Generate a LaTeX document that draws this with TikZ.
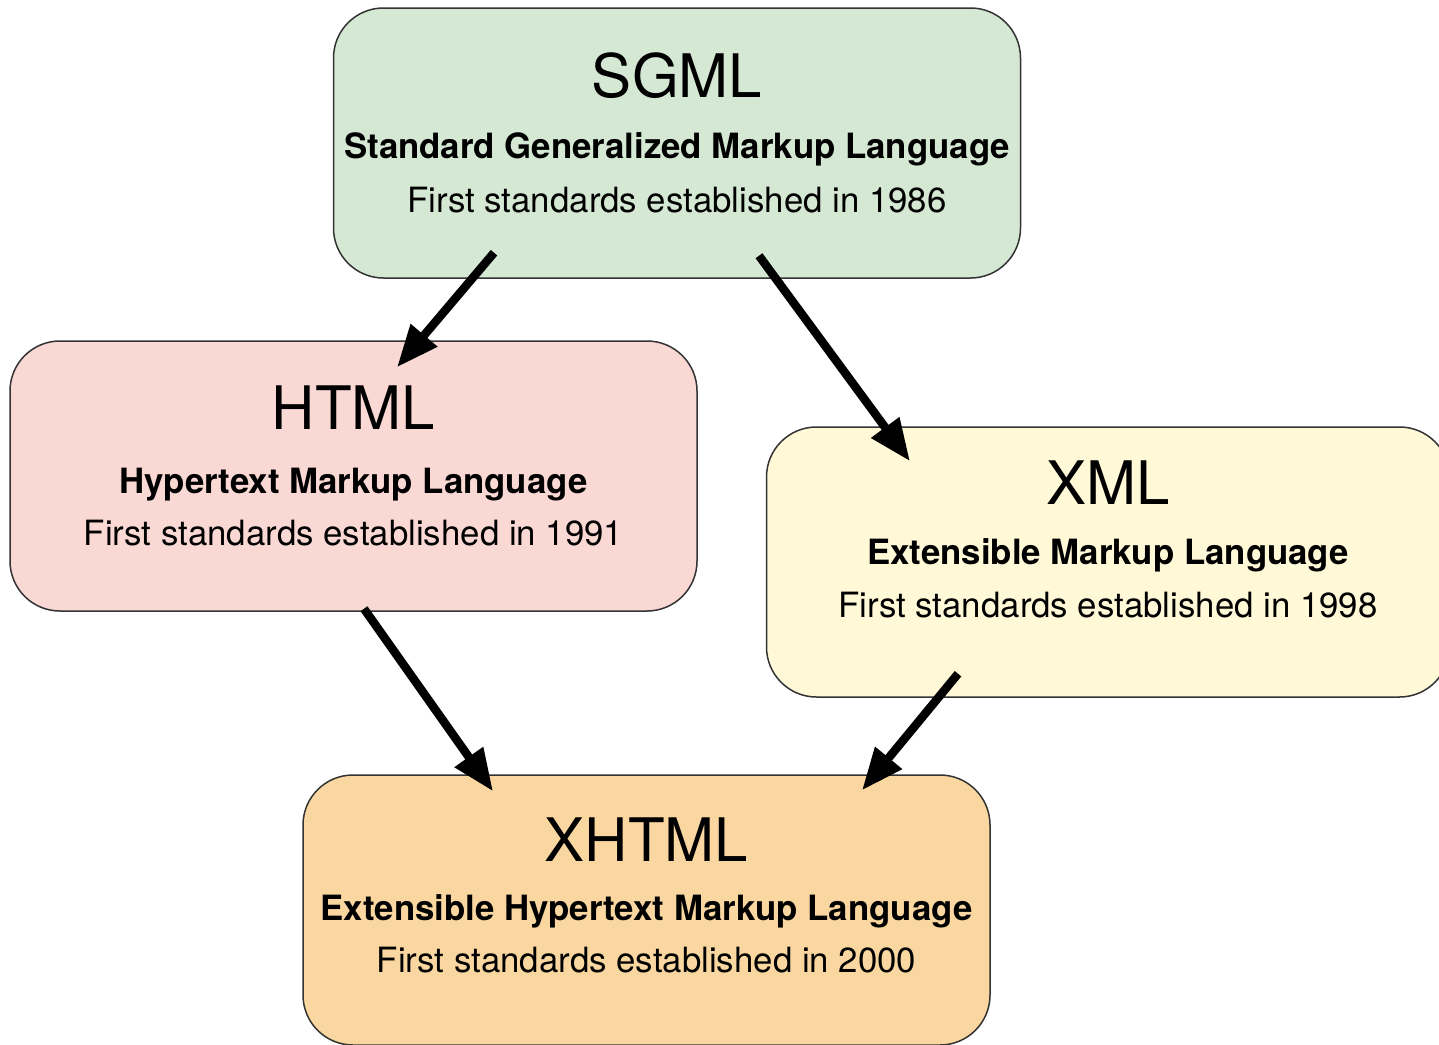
\documentclass[tikz,border=0pt]{standalone}
\usepackage{fontspec}
\setmainfont{TeX Gyre Heros}
\usetikzlibrary{arrows.meta}
\definecolor{sgmlgreen}{HTML}{D5E8D4}
\definecolor{htmlpink}{HTML}{FAD9D5}
\definecolor{xmlyellow}{HTML}{FFF9D8}
\definecolor{xhtmlorange}{HTML}{FAD7A0}
\tikzset{
    langbox/.style={draw=black!80, line width=0.75pt, rounded corners=25pt,
        minimum width=343.5pt, minimum height=135pt, inner sep=0pt},
    langname/.style={anchor=base, inner sep=0pt, font=\fontsize{30}{36}\selectfont},
    langfull/.style={anchor=base, inner sep=0pt, font=\fontsize{17.4}{21}\selectfont\bfseries},
    langyear/.style={anchor=base, inner sep=0pt, font=\fontsize{17.4}{21}\selectfont},
    derive/.style={line width=4.25pt, -{Triangle[length=21pt,width=16.5pt]}},
}
\begin{document}
\begin{tikzpicture}
[
    x=0.5pt, y=-0.5pt,
]
\useasboundingbox (0,0) rectangle (1439,1044);
% boxes
\node[langbox, fill=sgmlgreen] (sgml) at (677,143) {};
\node[langbox, fill=htmlpink] (html) at (353.5,476) {};
\node[langbox, fill=xmlyellow, minimum width=341.5pt] (xml) at (1108,562) {};
\node[langbox, fill=xhtmlorange] (xhtml) at (646.5,910) {};
% texts
\node[langname] (sgmlname) at ([yshift=-45pt]sgml.north) {SGML};
\node[langfull] (sgmlfull) at ([yshift=-30.5pt]sgmlname.base) {Standard Generalized Markup Language};
\node[langyear] (sgmlyear) at ([yshift=-27pt]sgmlfull.base) {First standards established in 1986};
\node[langname] (htmlname) at ([yshift=-44.5pt]html.north) {HTML};
\node[langfull] (htmlfull) at ([yshift=-32pt]htmlname.base) {Hypertext Markup Language};
\node[langyear] (htmlyear) at ([yshift=-26pt]htmlfull.base) {First standards established in 1991};
\node[langname] (xmlname) at ([yshift=-39pt]xml.north) {XML};
\node[langfull] (xmlfull) at ([yshift=-30pt]xmlname.base) {Extensible Markup Language};
\node[langyear] (xmlyear) at ([yshift=-26.5pt]xmlfull.base) {First standards established in 1998};
\node[langname] (xhtmlname) at ([yshift=-43.5pt]xhtml.north) {XHTML};
\node[langfull] (xhtmlfull) at ([yshift=-29.5pt]xhtmlname.base) {Extensible Hypertext Markup Language};
\node[langyear] (xhtmlyear) at ([yshift=-26pt]xhtmlfull.base) {First standards established in 2000};
% arrows
\draw[derive] ([xshift=-91.5pt,yshift=13pt]sgml.south) -- ([xshift=21.75pt,yshift=-13.5pt]html.north);
\draw[derive] ([xshift=41pt,yshift=11.5pt]sgml.south) -- ([xshift=-99pt,yshift=-17.5pt]xml.north);
\draw[derive] ([xshift=5.25pt,yshift=1.5pt]html.south) -- ([xshift=-76.75pt,yshift=-8.5pt]xhtml.north);
\draw[derive] ([xshift=-75pt,yshift=12pt]xml.south) -- ([xshift=107.75pt,yshift=-8pt]xhtml.north);
\end{tikzpicture}
\end{document}
